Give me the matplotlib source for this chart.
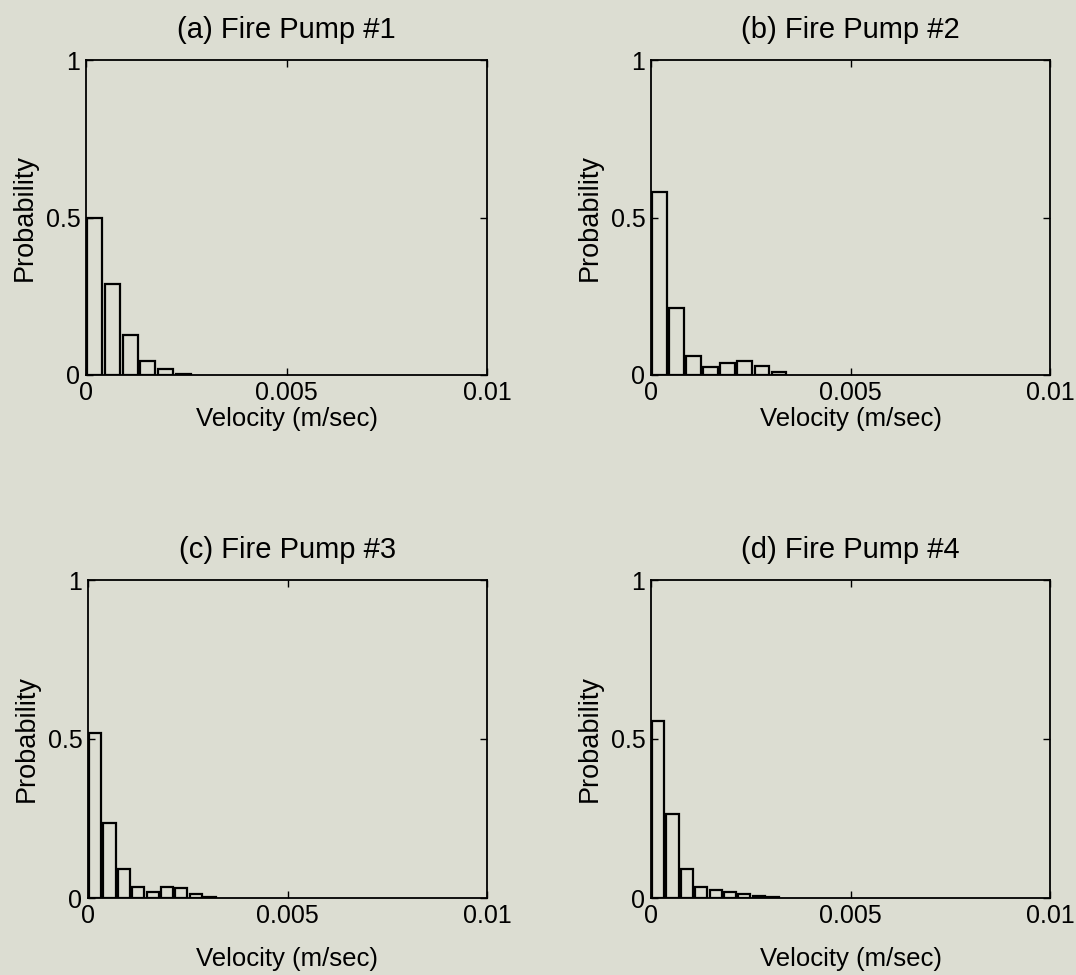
import matplotlib
matplotlib.use("Agg")
import matplotlib.pyplot as plt
import numpy as np

plt.rcParams["font.family"] = ["Liberation Sans", "DejaVu Sans"]

BG = "#dcddd2"

# ── data ─────────────────────────────────────────────────────────────────────
titles = ["(a) Fire Pump #1", "(b) Fire Pump #2", "(c) Fire Pump #3", "(d) Fire Pump #4"]

# bin spacing of each histogram (m/sec)
bin_width = [0.00044, 0.000427, 0.00036, 0.00036]

prob_a = [0.50, 0.29, 0.127, 0.044, 0.019, 0.004]
prob_b = [0.58, 0.213, 0.06, 0.025, 0.038, 0.043, 0.029, 0.01]
prob_c = [0.52, 0.236, 0.091, 0.035, 0.02, 0.035, 0.031, 0.013, 0.003]
prob_d = [0.557, 0.264, 0.09, 0.035, 0.025, 0.018, 0.012, 0.007, 0.003]
probs = [prob_a, prob_b, prob_c, prob_d]

# axes placement in figure pixels: left, top, right, bottom
W, H = 1076, 975
boxes = [(86, 60, 487, 375), (651, 60, 1050, 375),
         (88, 580, 487, 898), (651, 580, 1050, 898)]
xlabel_pad = [2, 2, 14, 14]

fig = plt.figure(figsize=(W / 100, H / 100), dpi=100, facecolor=BG)

for k in range(4):
    l, t, r, b = boxes[k]
    ax = fig.add_axes([l / W, 1 - b / H, (r - l) / W, (b - t) / H])
    ax.set_facecolor(BG)
    p = np.array(probs[k])
    w = bin_width[k]
    centers = (np.arange(len(p)) + 0.5) * w
    ax.bar(centers, p, width=w * 0.85, facecolor=BG, edgecolor="black",
           linewidth=1.6)
    ax.set_xlim(0, 0.01)
    ax.set_ylim(0, 1)
    ax.set_xticks([0, 0.005, 0.01])
    ax.set_xticklabels(["0", "0.005", "0.01"])
    ax.set_yticks([0, 0.5, 1])
    ax.set_yticklabels(["0", "0.5", "1"])
    ax.tick_params(direction="in", top=True, right=True, length=5,
                   width=1.0, labelsize=18, pad=4)
    for s in ax.spines.values():
        s.set_linewidth(1.3)
    ax.set_title(titles[k], fontsize=21, pad=16)
    ax.set_xlabel("Velocity (m/sec)", fontsize=18.5, labelpad=xlabel_pad[k])
    ax.set_ylabel("Probability", fontsize=19.5, labelpad=6)

fig.savefig("out.png", dpi=100, facecolor=BG)
